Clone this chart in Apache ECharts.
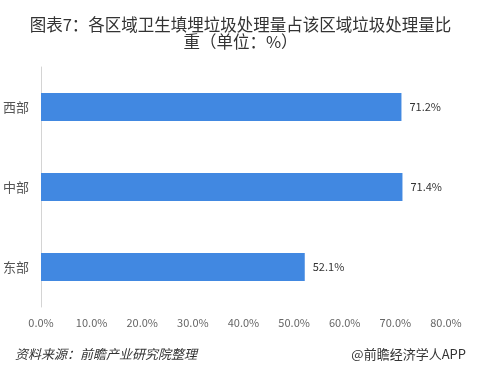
<!DOCTYPE html>
<html><head><meta charset="utf-8">
<script src="https://cdn.jsdelivr.net/npm/echarts@6/dist/echarts.min.js"></script>
<style>html,body{margin:0;padding:0;background:#fff}#c{width:481px;height:373px}</style>
</head><body><div id="c"></div>
<script>
const categories = ['东部', '中部', '西部'];
const values = [52.1, 71.4, 71.2];
const xTicks = [0, 10, 20, 30, 40, 50, 60, 70, 80];

const chart = echarts.init(document.getElementById('c'), null, {renderer: 'canvas'});
const font = '"Microsoft YaHei","Noto Sans CJK SC",sans-serif';
chart.setOption({
  backgroundColor: '#fff',
  animation: false,
  title: [{
    text: '图表7：各区域卫生填埋垃圾处理量占该区域垃圾处理量比\n重（单位：%）',
    left: 'center', top: 11,
    textStyle: {fontSize: 16.5, fontWeight: 'normal', color: '#333', fontFamily: font, lineHeight: 17, align: 'center'}
  }, {
    text: '资料来源：前瞻产业研究院整理',
    left: 10, top: 343,
    textStyle: {fontSize: 13, fontWeight: 'normal', fontStyle: 'italic', color: '#333', fontFamily: font}
  }, {
    text: '@前瞻经济学人APP',
    right: 10, top: 343,
    textStyle: {fontSize: 13, fontWeight: 'normal', color: '#333', fontFamily: font}
  }],
  grid: {left: 41, right: 35, top: 67, bottom: 66, containLabel: false},
  xAxis: {
    type: 'value', min: 0, max: 80, interval: 10,
    axisLine: {show: false}, axisTick: {show: false}, splitLine: {show: false},
    axisLabel: {color: '#666', fontSize: 11, fontFamily: font, margin: 10,
      formatter: v => xTicks.includes(v) ? v.toFixed(1) + '%' : ''}
  },
  yAxis: {
    type: 'category', data: categories,
    axisLine: {show: true, lineStyle: {color: '#d4d4d4', width: 1}},
    axisTick: {show: false},
    axisLabel: {color: '#555', fontSize: 13, fontFamily: font, margin: 12}
  },
  series: [{
    type: 'bar', data: values, barWidth: 28,
    itemStyle: {color: '#4188E1'},
    label: {show: true, position: 'right', distance: 8, color: '#333', fontSize: 11, fontFamily: font,
      formatter: p => p.value.toFixed(1) + '%'}
  }]
});
</script></body></html>
